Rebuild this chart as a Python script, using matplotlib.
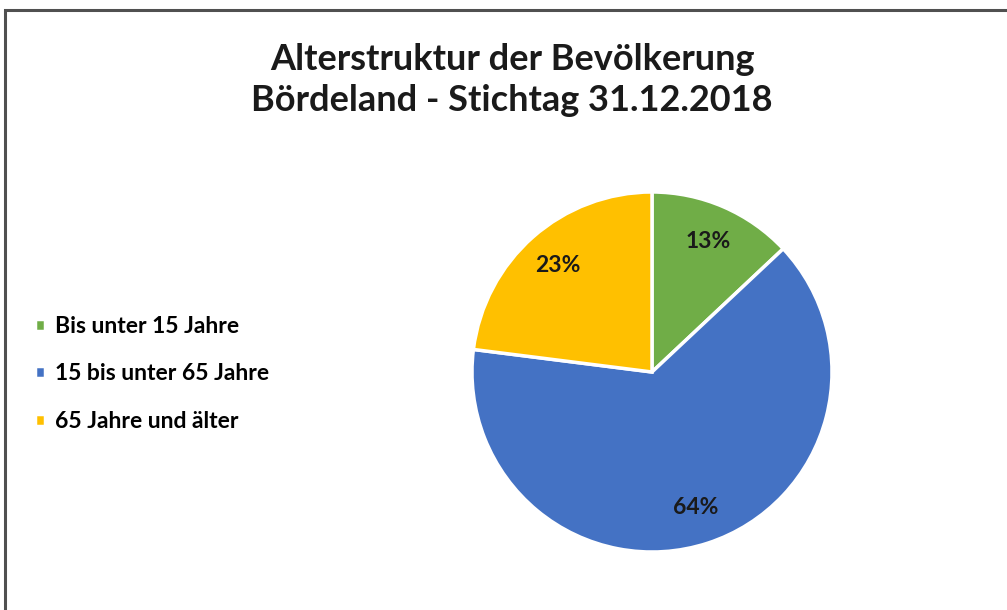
import matplotlib.pyplot as plt
from matplotlib.patches import Rectangle

plt.rcParams['font.family'] = ['Lato', 'DejaVu Sans']

labels = ["Bis unter 15 Jahre", "15 bis unter 65 Jahre", "65 Jahre und älter"]
shares = [13, 64, 23]
colors = ["#70AD47", "#4472C4", "#FFC000"]
title = "Alterstruktur der Bevölkerung\nBördeland - Stichtag 31.12.2018"

W, H = 1007, 610
fig = plt.figure(figsize=(W / 100, H / 100), dpi=100)

# frame (right and bottom edges are cut off in the original)
fig.patches.append(Rectangle((5 / W, -0.1), 1.2, 1 - 10 / H + 0.1, transform=fig.transFigure,
                             fill=False, edgecolor="#505050", linewidth=2.2))

fig.text(512 / W, 1 - 80 / H, title, ha="center", va="center", fontsize=26,
         fontweight="bold", color="#1a1a1a", linespacing=1.32)

# pie centred at (652, 372), radius 180 px
cx, cy, r = 652, 372, 180
ax = fig.add_axes([(cx - r) / W, (H - cy - r) / H, 2 * r / W, 2 * r / H])
wedges, _, autotexts = ax.pie(shares, colors=colors, startangle=90, counterclock=False,
                              autopct="%d%%", pctdistance=0.79,
                              wedgeprops=dict(edgecolor="white", linewidth=2.5),
                              textprops=dict(fontsize=16.5, fontweight="bold", color="#1a1a1a"))
ax.set_xlim(-1, 1)
ax.set_ylim(-1, 1)

fig.legend(wedges, labels, loc="center left", bbox_to_anchor=(14 / W, 1 - 374 / H),
           frameon=False, labelspacing=1.15, handlelength=0.45,
           handleheight=0.45, handletextpad=0.45, prop=dict(weight="bold", size=16.5))

fig.savefig("out.png", dpi=100, facecolor="white")
